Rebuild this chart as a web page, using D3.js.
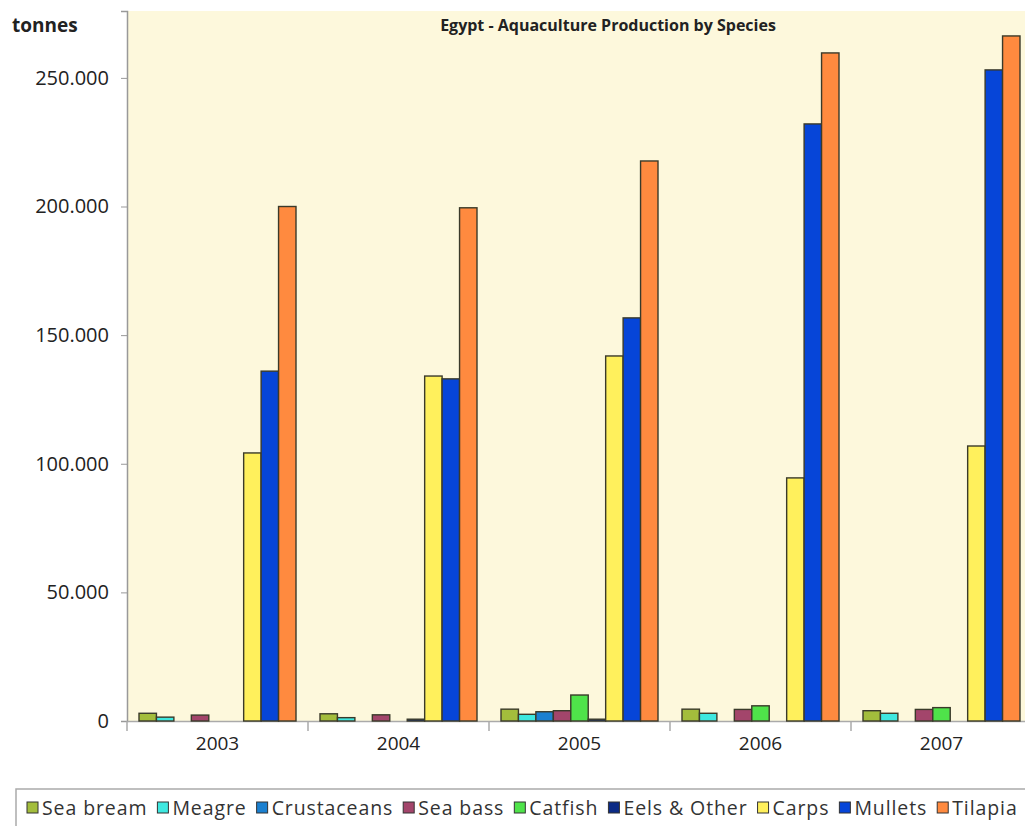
<!DOCTYPE html>
<html>
<head>
<meta charset="utf-8">
<script src="https://cdn.jsdelivr.net/npm/d3@7"></script>
<style>
  body { margin: 0; background: #fff; }
  text { font-family: "Open Sans", "Liberation Sans", sans-serif; }
</style>
</head>
<body>
<div id="chart"></div>
<script>
const years = ["2003", "2004", "2005", "2006", "2007"];
const species = ["Sea bream", "Meagre", "Crustaceans", "Sea bass", "Catfish", "Eels & Other", "Carps", "Mullets", "Tilapia"];
const colors = ["#a3bd3c", "#3ee8e0", "#1b80d0", "#a3456b", "#4fe34a", "#0b2a85", "#fff05c", "#0645d8", "#ff8a3f"];

// tonnes, one array per species, in year order
const seaBream = [3000, 2800, 4600, 4600, 4000];
const meagre = [1500, 1300, 2600, 3000, 3000];
const crustaceans = [0, 0, 3600, 0, 0];
const seaBass = [2300, 2400, 4000, 4500, 4500];
const catfish = [0, 0, 10100, 5900, 5200];
const eelsOther = [0, 700, 700, 0, 0];
const carps = [104200, 134100, 141900, 94500, 106900];
const mullets = [136000, 133000, 156700, 232100, 253100];
const tilapia = [200000, 199500, 217700, 259700, 266300];

const yTicks = [0, 50000, 100000, 150000, 200000, 250000];

const seriesValues = [seaBream, meagre, crustaceans, seaBass, catfish, eelsOther, carps, mullets, tilapia];

const width = 1025, height = 826;
const margin = {top: 11, left: 127, bottom: 721, right: 1032};

const svg = d3.select("#chart").append("svg")
  .attr("width", width)
  .attr("height", height);

const x0 = d3.scaleBand()
  .domain(years)
  .range([margin.left, margin.right]);

const x1 = d3.scaleBand()
  .domain(species)
  .range([12, x0.bandwidth() - 12]);

const y = d3.scaleLinear()
  .domain([0, 276000])
  .range([margin.bottom, margin.top]);

const color = d3.scaleOrdinal().domain(species).range(colors);

const fmt = d3.formatLocale({decimal: ",", thousands: ".", grouping: [3], currency: ["", ""]}).format(",");

// plot background
svg.append("rect")
  .attr("x", margin.left)
  .attr("y", margin.top)
  .attr("width", margin.right - margin.left)
  .attr("height", margin.bottom - margin.top)
  .attr("fill", "#fdf8dc");

// y axis
svg.append("g")
  .attr("transform", `translate(${margin.left},0)`)
  .call(d3.axisLeft(y).tickValues(yTicks).tickFormat(d => d === 0 ? "0" : fmt(d)).tickSize(6).tickPadding(12))
  .call(g => g.select(".domain").attr("stroke", "#999").attr("stroke-width", 1.5))
  .call(g => g.selectAll(".tick line").attr("stroke", "#999"))
  .call(g => g.selectAll(".tick text")
    .style("font-size", "20px")
    .attr("fill", "#222"));

// x axis
svg.append("g")
  .attr("transform", `translate(0,${margin.bottom})`)
  .call(d3.axisBottom(x0).tickSize(0).tickPadding(16))
  .call(g => g.select(".domain").attr("stroke", "#aaa").attr("stroke-width", 1.5))
  .call(g => g.selectAll(".tick text")
    .style("font-size", "19px")
    .attr("fill", "#222"));

// category separators below the baseline
svg.append("g")
  .selectAll("line")
  .data(years)
  .join("line")
  .attr("x1", d => x0(d))
  .attr("x2", d => x0(d))
  .attr("y1", margin.bottom)
  .attr("y2", margin.bottom + 10)
  .attr("stroke", "#aaa")
  .attr("stroke-width", 1.5);

// bars
const groups = svg.append("g")
  .selectAll("g")
  .data(years)
  .join("g")
  .attr("transform", d => `translate(${x0(d)},0)`);

groups.selectAll("rect")
  .data((yr, i) => species.map((s, j) => ({species: s, value: seriesValues[j][i]})))
  .join("rect")
  .filter(d => d.value > 0)
  .attr("x", d => x1(d.species))
  .attr("y", d => y(d.value))
  .attr("width", x1.bandwidth())
  .attr("height", d => y(0) - y(d.value))
  .attr("fill", d => color(d.species))
  .attr("stroke", "#3a3a2a")
  .attr("stroke-width", 1.4);

// titles
svg.append("text")
  .attr("x", 12)
  .attr("y", 32)
  .style("font-size", "19px")
  .style("font-weight", "bold")
  .attr("fill", "#222")
  .text("tonnes");

svg.append("text")
  .attr("x", 608)
  .attr("y", 31)
  .attr("text-anchor", "middle")
  .style("font-size", "16px")
  .style("font-weight", "bold")
  .attr("fill", "#222")
  .text("Egypt - Aquaculture Production by Species");

// legend
const legend = svg.append("g");

legend.append("rect")
  .attr("x", 16)
  .attr("y", 789)
  .attr("width", 1020)
  .attr("height", 40)
  .attr("fill", "#fff")
  .attr("stroke", "#aaa")
  .attr("stroke-width", 1.5);

let lx = 27;
species.forEach(s => {
  const item = legend.append("g").attr("transform", `translate(${lx},0)`);
  item.append("rect")
    .attr("x", 0)
    .attr("y", 802)
    .attr("width", 11)
    .attr("height", 11)
    .attr("fill", color(s))
    .attr("stroke", "#333")
    .attr("stroke-width", 1);
  const t = item.append("text")
    .attr("x", 15)
    .attr("y", 815)
    .style("font-size", "19.5px")
    .style("letter-spacing", "0.9px")
    .attr("fill", "#333")
    .text(s);
  lx += 15 + t.node().getComputedTextLength() + 10;
});
</script>
</body>
</html>
